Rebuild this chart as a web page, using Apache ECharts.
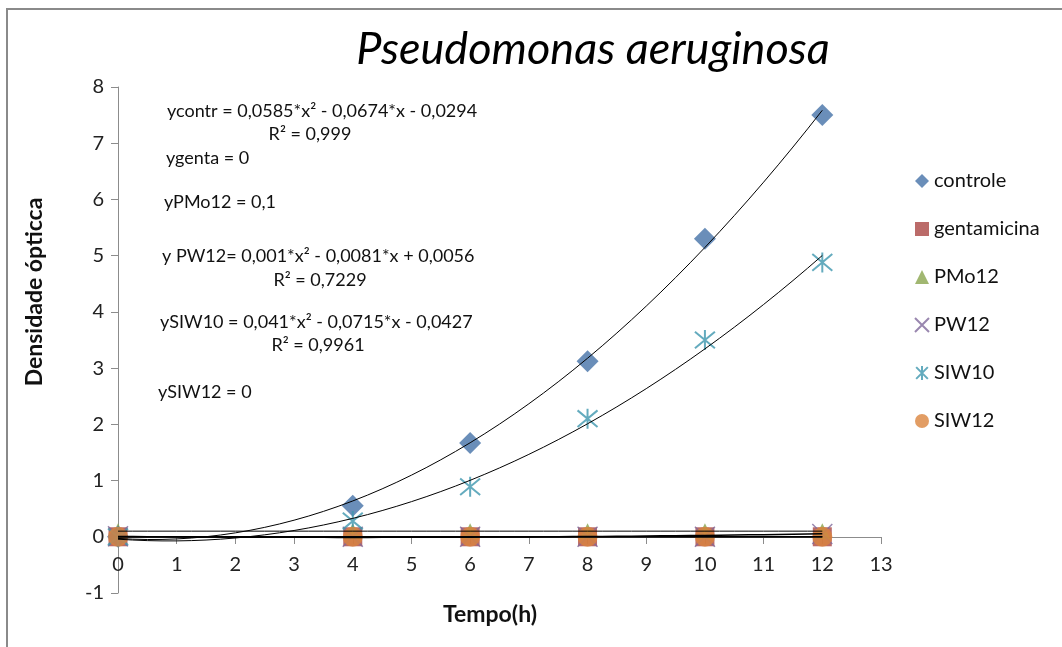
<!DOCTYPE html>
<html>
<head>
<meta charset="utf-8">
<title>Pseudomonas aeruginosa</title>
<script src="https://cdn.jsdelivr.net/npm/echarts@6/dist/echarts.min.js"></script>
<style>
  html, body { margin: 0; padding: 0; background: #fff; }
  #chart { width: 1062px; height: 647px; }
</style>
</head>
<body>
<div id="chart"></div>
<script>
// tempos de leitura (h)
const tempo = [0, 4, 6, 8, 10, 12];

// densidade óptica por tratamento
const controle = [0, 0.55, 1.67, 3.12, 5.3, 7.5];
const gentamicina = [0, 0, 0, 0, 0, 0];
const pmo12 = [0.1, 0.1, 0.1, 0.1, 0.1, 0.1];
const pw12 = [0.01, 0, 0, 0, 0, 0.05];
const siw10 = [0, 0.28, 0.89, 2.1, 3.5, 4.88];
const siw12 = [0, 0, 0, 0, 0, 0];

// coeficientes das linhas de tendência [a, b, c] -> a*x^2 + b*x + c
const fitControle = [0.0585, -0.0674, -0.0294];
const fitGenta = [0, 0, 0];
const fitPMo12 = [0, 0, 0.1];
const fitPW12 = [0.001, -0.0081, 0.0056];
const fitSIW10 = [0.041, -0.0715, -0.0427];
const fitSIW12 = [0, 0, 0];

// textos das equações
const equacoes = [
  'ycontr = 0,0585*x² - 0,0674*x - 0,0294',
  'R² = 0,999',
  'ygenta = 0',
  'yPMo12 = 0,1',
  'y PW12= 0,001*x² - 0,0081*x + 0,0056',
  'R² = 0,7229',
  'ySIW10 = 0,041*x² - 0,0715*x - 0,0427',
  'R² = 0,9961',
  'ySIW12 = 0'
];

const fontFam = 'Lato, "Open Sans", sans-serif';

const pairs = (ys) => tempo.map((t, i) => [t, ys[i]]);

// curva da tendência a partir dos coeficientes exibidos
const curva = (c) => {
  const pts = [];
  for (let x = 0; x <= 12.001; x += 0.25) {
    pts.push([x, c[0] * x * x + c[1] * x + c[2]]);
  }
  return pts;
};

const trend = (c, w) => ({
  type: 'line',
  data: curva(c),
  showSymbol: false,
  silent: true,
  z: 5,
  lineStyle: { color: '#000', width: w },
  itemStyle: { color: '#000' }
});

const xPath = 'path://M0,0 L10,10 M10,0 L0,10';
const starPath = 'path://M0,0 L10,10 M10,0 L0,10 M5,-1 L5,11';

const chart = echarts.init(document.getElementById('chart'));

const eqPos = [
  [167, 111, 'left'], [310, 134, 'center'], [166, 158, 'left'],
  [164, 202, 'left'], [162, 256, 'left'], [320, 280, 'center'],
  [160, 322, 'left'], [318, 345, 'center'], [158, 392, 'left']
];

const option = {
  animation: false,
  backgroundColor: '#fff',
  title: {
    text: 'Pseudomonas aeruginosa',
    left: 588,
    top: 22,
    textAlign: 'center',
    textStyle: { fontFamily: fontFam, fontStyle: 'italic', fontWeight: 'normal', fontSize: 45, color: '#000' }
  },
  grid: { left: 118, right: 181, top: 87, bottom: 54, containLabel: false },
  legend: {
    orient: 'vertical',
    left: 909,
    top: 166,
    itemGap: 28,
    itemWidth: 14,
    itemHeight: 14,
    textStyle: { fontFamily: fontFam, fontSize: 20, color: '#111' },
    data: ['controle', 'gentamicina', 'PMo12', 'PW12', 'SIW10', 'SIW12']
  },
  xAxis: {
    type: 'value',
    min: 0, max: 13, interval: 1,
    offset: -56,
    splitLine: { show: false },
    axisLine: { onZero: false, lineStyle: { color: '#8c8c8c' } },
    axisTick: { length: 7, lineStyle: { color: '#8c8c8c' } },
    axisLabel: { margin: 18, fontFamily: fontFam, fontSize: 20, color: '#222' }
  },
  yAxis: {
    type: 'value',
    min: -1, max: 8, interval: 1,
    splitLine: { show: false },
    axisLine: { show: true, onZero: false, lineStyle: { color: '#8c8c8c' } },
    axisTick: { show: true, length: 7, lineStyle: { color: '#8c8c8c' } },
    axisLabel: { margin: 14, fontFamily: fontFam, fontSize: 20, color: '#222' }
  },
  graphic: [
    {
      type: 'polyline', silent: true,
      shape: { points: [[7, 647], [7, 9], [1062, 9]] },
      style: { stroke: '#8a8a8a', lineWidth: 2, fill: null }
    },
    {
      type: 'text', x: 35, y: 292, rotation: Math.PI / 2,
      style: { text: 'Densidade ópticca', fontFamily: fontFam, fontWeight: 'bold', fontSize: 23, fill: '#111', textAlign: 'center', textVerticalAlign: 'middle' }
    },
    {
      type: 'text', x: 490, y: 615,
      style: { text: 'Tempo(h)', fontFamily: fontFam, fontWeight: 'bold', fontSize: 23, fill: '#111', textAlign: 'center', textVerticalAlign: 'middle' }
    }
  ].concat(equacoes.map((t, i) => ({
    type: 'text', x: eqPos[i][0], y: eqPos[i][1], z: 10,
    style: { text: t, fontFamily: fontFam, fontSize: 18, fill: '#111', textAlign: eqPos[i][2], textVerticalAlign: 'middle' }
  }))),
  series: [
    {
      name: 'controle', type: 'scatter', data: pairs(controle),
      symbol: 'diamond', symbolSize: 22, z: 3,
      itemStyle: { color: '#4572A7' }
    },
    {
      name: 'gentamicina', type: 'scatter', data: pairs(gentamicina),
      symbol: 'rect', symbolSize: 19, z: 2,
      itemStyle: { color: '#AA4643' }
    },
    {
      name: 'PMo12', type: 'scatter', data: pairs(pmo12),
      symbol: 'triangle', symbolSize: 16, z: 2,
      itemStyle: { color: '#89A54E' }
    },
    {
      name: 'PW12', type: 'scatter', data: pairs(pw12),
      symbol: xPath, symbolSize: 20, z: 2,
      itemStyle: { color: 'rgba(0,0,0,0)', borderColor: '#80699B', borderWidth: 1.5 }
    },
    {
      name: 'SIW10', type: 'scatter', data: pairs(siw10),
      symbol: starPath, symbolSize: 20, z: 3,
      itemStyle: { color: 'rgba(0,0,0,0)', borderColor: '#3D96AE', borderWidth: 2 }
    },
    {
      name: 'SIW12', type: 'scatter', data: pairs(siw12),
      symbol: 'circle', symbolSize: 20, z: 3,
      itemStyle: { color: '#DB843D' }
    },
    trend(fitControle, 1),
    trend(fitSIW10, 1),
    trend(fitPMo12, 1),
    trend(fitGenta, 1.5),
    trend(fitSIW12, 1.5),
    trend(fitPW12, 1.5)
  ]
};

chart.setOption(option);
</script>
</body>
</html>
